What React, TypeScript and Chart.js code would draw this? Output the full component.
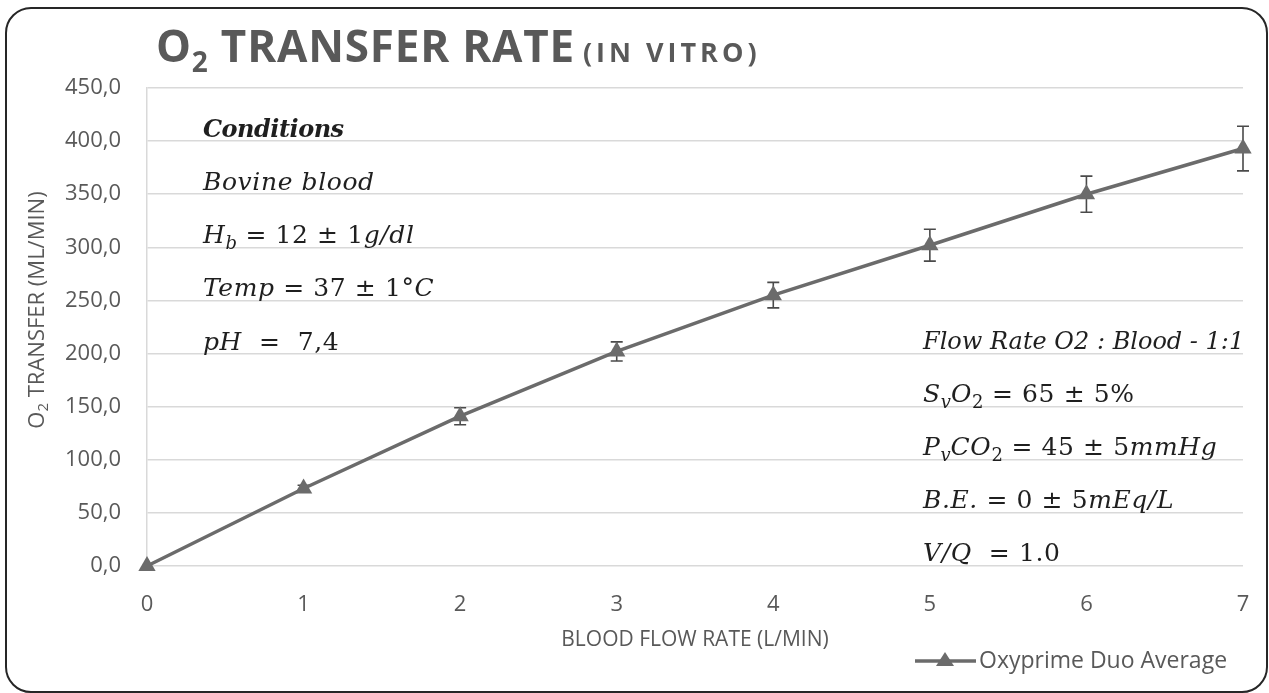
import React, { useEffect, useRef } from "react";
import { Chart, registerables } from "chart.js";

Chart.register(...registerables);

// ---------- data ----------
const flowRates = [0, 1, 2, 3, 4, 5, 6, 7];
const o2Transfer = [0, 73, 141, 202, 255, 302, 350, 393];
const o2Errors = [0, 3, 8, 9, 12, 15, 17, 21];
const seriesLabel = "Oxyprime Duo Average";
const yMin = 0;
const yMax = 450;
const yStep = 50;
const xMin = 0;
const xMax = 7;

const xAxisTitle = "BLOOD FLOW RATE (L/MIN)";
const yAxisTitleParts = ["O", "2", " TRANSFER (ML/MIN)"];
const titleMainParts = ["O", "2", " TRANSFER RATE"];
const titleSmall = "(IN VITRO)";

type Seg = [string, string];
const conditionsLines: Seg[][] = [
  [["Conditions", "b"]],
  [["Bovine blood", "i"]],
  [["H", "i"], ["b", "si"], [" = 12 ± 1", "n"], ["g/dl", "i"]],
  [["Temp", "i"], [" = 37 ± 1°", "n"], ["C", "i"]],
  [["pH", "i"], ["  =  7,4", "n"]],
];
const gasLines: Seg[][] = [
  [["Flow Rate O2 : Blood - 1:1", "t"]],
  [["S", "i"], ["v", "si"], ["O", "i"], ["2", "sn"], [" = 65 ± 5%", "n"]],
  [["P", "i"], ["v", "si"], ["CO", "i"], ["2", "sn"], [" = 45 ± 5", "n"], ["mmHg", "i"]],
  [["B.E.", "i"], [" = 0 ± 5", "n"], ["mEq/L", "i"]],
  [["V/Q", "i"], ["  = 1.0", "n"]],
];

const GRAY = "#595959";
const LINE = "#6b6b6b";
const SANS = "'Open Sans', 'DejaVu Sans', sans-serif";
const SERIF = "'DejaVu Serif', serif";

function drawRuns(ctx: CanvasRenderingContext2D, segs: Seg[], x: number, y: number, size: number) {
  let cx = x;
  for (const [t, st] of segs) {
    let font = `italic ${size}px ${SERIF}`;
    let dy = 0;
    let ls = "0.6px";
    if (st === "n") { font = `${size}px ${SERIF}`; ls = "0.6px"; }
    else if (st === "b") { font = `italic bold ${size - 1}px ${SERIF}`; ls = "-0.5px"; }
    else if (st === "t") { font = `italic ${size - 1}px ${SERIF}`; ls = "0px"; }
    else if (st === "si") { font = `italic ${Math.round(size * 0.7)}px ${SERIF}`; dy = 6; ls = "0px"; }
    else if (st === "sn") { font = `${Math.round(size * 0.7)}px ${SERIF}`; dy = 6; ls = "0px"; }
    ctx.font = font;
    (ctx as any).letterSpacing = ls;
    ctx.fillText(t, cx, y + dy);
    cx += ctx.measureText(t).width;
  }
  (ctx as any).letterSpacing = "0px";
}

const decorPlugin = {
  id: "decor",
  beforeDatasetsDraw(chart: any) {
    const ctx: CanvasRenderingContext2D = chart.ctx;
    const xs = chart.scales.x;
    const ys = chart.scales.y;
    ctx.save();
    ctx.strokeStyle = "#4a4a4a";
    ctx.lineWidth = 1.6;
    o2Transfer.forEach((v, i) => {
      const e = o2Errors[i];
      if (!e) return;
      const px = xs.getPixelForValue(flowRates[i]);
      const top = ys.getPixelForValue(v + e);
      const bot = ys.getPixelForValue(v - e);
      ctx.beginPath();
      ctx.moveTo(px, top);
      ctx.lineTo(px, bot);
      ctx.moveTo(px - 6, top);
      ctx.lineTo(px + 6, top);
      ctx.moveTo(px - 6, bot);
      ctx.lineTo(px + 6, bot);
      ctx.stroke();
    });
    ctx.restore();
  },
  afterDraw(chart: any) {
    const ctx: CanvasRenderingContext2D = chart.ctx;
    const area = chart.chartArea;
    ctx.save();
    // Title
    ctx.fillStyle = GRAY;
    ctx.textBaseline = "alphabetic";
    ctx.textAlign = "left";
    let tx = 156;
    const tb = 62;
    (ctx as any).letterSpacing = "0.8px";
    ctx.font = `bold 44px ${SANS}`;
    ctx.fillText(titleMainParts[0], tx, tb);
    tx += ctx.measureText(titleMainParts[0]).width;
    ctx.font = `bold 28px ${SANS}`;
    ctx.fillText(titleMainParts[1], tx, tb + 10);
    tx += ctx.measureText(titleMainParts[1]).width;
    ctx.font = `bold 44px ${SANS}`;
    ctx.fillText(titleMainParts[2], tx, tb);
    tx += ctx.measureText(titleMainParts[2]).width + 8;
    (ctx as any).letterSpacing = "4px";
    ctx.font = `bold 27px ${SANS}`;
    ctx.fillText(titleSmall, tx, tb);
    (ctx as any).letterSpacing = "0px";

    // Y axis title (rotated)
    ctx.save();
    ctx.translate(38, 310);
    ctx.rotate(-Math.PI / 2);
    const s0 = yAxisTitleParts[0], s1 = yAxisTitleParts[1], s2 = yAxisTitleParts[2];
    ctx.font = `22px ${SANS}`;
    const w0 = ctx.measureText(s0).width;
    const w2 = ctx.measureText(s2).width;
    ctx.font = `15px ${SANS}`;
    const w1 = ctx.measureText(s1).width;
    let yx = -(w0 + w1 + w2) / 2;
    ctx.textBaseline = "middle";
    ctx.font = `22px ${SANS}`;
    ctx.fillText(s0, yx, 0);
    yx += w0;
    ctx.font = `15px ${SANS}`;
    ctx.fillText(s1, yx, 6);
    yx += w1;
    ctx.font = `22px ${SANS}`;
    ctx.fillText(s2, yx, 0);
    ctx.restore();

    // Annotations
    ctx.fillStyle = "#1f1f1f";
    ctx.textBaseline = "alphabetic";
    const ys = chart.scales.y;
    conditionsLines.forEach((segs, i) => {
      const base = ys.getPixelForValue(400 - i * 50) - 4;
      drawRuns(ctx, segs, area.left + 56, base, 25);
    });
    gasLines.forEach((segs, i) => {
      const base = ys.getPixelForValue(200 - i * 50) - 5;
      drawRuns(ctx, segs, 923, base, 25);
    });

    // Legend
    const ly = 661;
    ctx.strokeStyle = LINE;
    ctx.lineWidth = 3.5;
    ctx.beginPath();
    ctx.moveTo(915, ly);
    ctx.lineTo(976, ly);
    ctx.stroke();
    ctx.fillStyle = LINE;
    ctx.beginPath();
    ctx.moveTo(945, ly - 9);
    ctx.lineTo(954, ly + 5);
    ctx.lineTo(936, ly + 5);
    ctx.closePath();
    ctx.fill();
    ctx.fillStyle = GRAY;
    ctx.font = `23px ${SANS}`;
    ctx.textBaseline = "middle";
    ctx.fillText(chart.data.datasets[0].label, 979, ly);
    ctx.restore();
  },
};

export default function App() {
  const ref = useRef<HTMLCanvasElement | null>(null);
  useEffect(() => {
    if (!ref.current) return;
    const chart = new Chart(ref.current, {
      type: "line",
      data: {
        datasets: [
          {
            label: seriesLabel,
            data: flowRates.map((x, i) => ({ x, y: o2Transfer[i] })),
            borderColor: LINE,
            backgroundColor: LINE,
            borderWidth: 3.5,
            pointStyle: "triangle",
            pointRadius: 10,
            pointBackgroundColor: LINE,
            pointBorderColor: LINE,
            pointBorderWidth: 0,
            tension: 0,
            clip: false,
          },
        ],
      },
      options: {
        responsive: false,
        maintainAspectRatio: false,
        animation: false,
        devicePixelRatio: 1,
        layout: { padding: { left: 0, top: 88, right: 26, bottom: 0 } },
        plugins: {
          legend: { display: false },
          tooltip: { enabled: false },
          title: { display: false },
        },
        scales: {
          x: {
            type: "linear",
            min: xMin,
            max: xMax,
            ticks: {
              stepSize: 1,
              padding: 26,
              color: GRAY,
              font: { family: SANS, size: 22 },
            },
            grid: { display: false, drawTicks: false },
            border: { display: false },
            title: {
              display: true,
              text: xAxisTitle,
              color: GRAY,
              font: { family: SANS, size: 21 },
              padding: { top: 0, bottom: 40 },
            },
            afterFit(scale: any) {
              scale.height = 127;
              scale.paddingLeft = 0;
              scale.paddingRight = 0;
            },
          },
          y: {
            min: yMin,
            max: yMax,
            ticks: {
              stepSize: yStep,
              padding: 26,
              color: GRAY,
              font: { family: SANS, size: 22 },
              callback: (v: any) => Number(v).toFixed(1).replace(".", ","),
            },
            grid: { color: "#d9d9d9", lineWidth: 1.5, drawTicks: false },
            border: { display: true, color: "#d9d9d9", width: 1.5 },
            afterFit(scale: any) {
              scale.width = 147;
            },
          },
        },
      },
      plugins: [decorPlugin],
    } as any);
    return () => chart.destroy();
  }, []);

  return (
    <div style={{ position: "fixed", left: 0, top: 0, width: 1269, height: 693, background: "#fff" }}>
      <canvas ref={ref} width={1269} height={693} style={{ position: "absolute", left: 0, top: 0 }} />
      <div
        style={{
          position: "absolute",
          left: 5,
          top: 7,
          width: 1263,
          height: 686,
          boxSizing: "border-box",
          border: "2px solid #262626",
          borderRadius: 26,
          pointerEvents: "none",
        }}
      />
    </div>
  );
}
